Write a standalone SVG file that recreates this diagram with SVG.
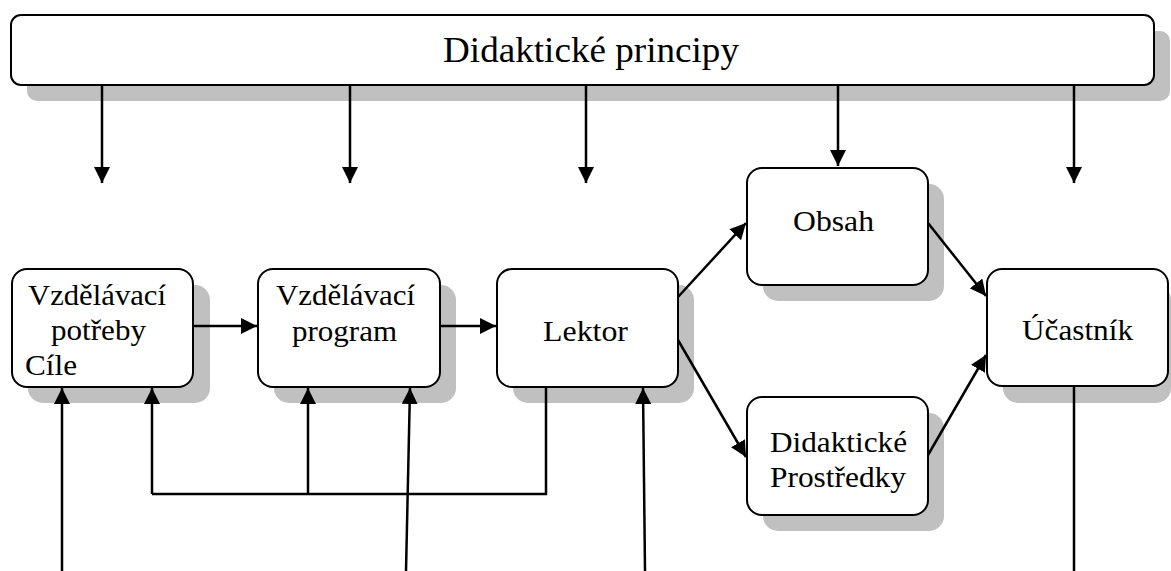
<svg xmlns="http://www.w3.org/2000/svg" width="1171" height="571" viewBox="0 0 1171 571">
<style>
.box{fill:#fff;stroke:#000;stroke-width:2}
.sh{fill:#c0c0c0;stroke:none}
.t{font-family:"Liberation Serif","Tinos","Times New Roman","Noto Serif","DejaVu Serif",serif;font-size:29px;fill:#000}
.big{font-size:36px}
.c{stroke:#000;stroke-width:2.5;fill:none}
.a{stroke:#000;stroke-width:2.5;fill:none;marker-end:url(#ah)}
</style>
<defs>
<marker id="ah" markerUnits="userSpaceOnUse" viewBox="0 0 16 16" refX="16" refY="8" markerWidth="16" markerHeight="16" orient="auto">
<path d="M0,0 L16,8 L0,16 z" fill="#000"/>
</marker>
</defs>
<rect width="1171" height="571" fill="#fff"/>
<g id="principy">
<rect class="sh" x="27" y="31" width="1143" height="70" rx="10"/>
<rect class="box" x="11" y="15" width="1143" height="70" rx="10"/>
<text class="t big" x="443" y="62" textLength="296" lengthAdjust="spacingAndGlyphs">Didaktické principy</text>
</g>
<g id="potreby">
<rect class="sh" x="28" y="285" width="182" height="118" rx="15"/>
<rect class="box" x="12" y="269" width="181" height="118" rx="15"/>
<text class="t" x="28" y="305" textLength="138" lengthAdjust="spacingAndGlyphs">Vzdělávací</text>
<text class="t" x="51" y="340" textLength="95" lengthAdjust="spacingAndGlyphs">potřeby</text>
<text class="t" x="25" y="375" textLength="52" lengthAdjust="spacingAndGlyphs">Cíle</text>
</g>
<g id="program">
<rect class="sh" x="274" y="285" width="182" height="118" rx="15"/>
<rect class="box" x="258" y="269" width="182" height="118" rx="15"/>
<text class="t" x="276" y="305" textLength="139" lengthAdjust="spacingAndGlyphs">Vzdělávací</text>
<text class="t" x="292" y="341" textLength="105" lengthAdjust="spacingAndGlyphs">program</text>
</g>
<g id="lektor">
<rect class="sh" x="513" y="285" width="181" height="118" rx="15"/>
<rect class="box" x="497" y="269" width="181" height="118" rx="15"/>
<text class="t" x="543" y="341" textLength="85" lengthAdjust="spacingAndGlyphs">Lektor</text>
</g>
<g id="obsah">
<rect class="sh" x="763" y="184" width="181" height="117" rx="15"/>
<rect class="box" x="747" y="168" width="181" height="117" rx="15"/>
<text class="t" x="793" y="231" textLength="81" lengthAdjust="spacingAndGlyphs">Obsah</text>
</g>
<g id="prostredky">
<rect class="sh" x="763" y="413" width="181" height="118" rx="15"/>
<rect class="box" x="747" y="397" width="181" height="118" rx="15"/>
<text class="t" x="770" y="452" textLength="137" lengthAdjust="spacingAndGlyphs">Didaktické</text>
<text class="t" x="770" y="487" textLength="136" lengthAdjust="spacingAndGlyphs">Prostředky</text>
</g>
<g id="ucastnik">
<rect class="sh" x="1003" y="285" width="168" height="118" rx="15"/>
<rect class="box" x="987" y="269" width="181" height="117" rx="15"/>
<text class="t" x="1022" y="340" textLength="111" lengthAdjust="spacingAndGlyphs">Účastník</text>
</g>
<g id="connectors">
<line class="a" x1="102" y1="85" x2="102" y2="183"/>
<line class="a" x1="350" y1="85" x2="350" y2="183"/>
<line class="a" x1="586" y1="85" x2="586" y2="183"/>
<line class="a" x1="838" y1="85" x2="838" y2="166"/>
<line class="a" x1="1074" y1="85" x2="1074" y2="183"/>
<line class="a" x1="193" y1="326" x2="257" y2="326"/>
<line class="a" x1="440" y1="326" x2="496" y2="326"/>
<line class="a" x1="678" y1="297" x2="746" y2="223"/>
<line class="a" x1="678" y1="340" x2="746" y2="457"/>
<line class="a" x1="928" y1="223" x2="986" y2="296"/>
<line class="a" x1="928" y1="455" x2="986" y2="355"/>
<line class="a" x1="62" y1="571" x2="62" y2="388"/>
<line class="a" x1="152" y1="494" x2="152" y2="388"/>
<line class="a" x1="308" y1="494" x2="308" y2="388"/>
<line class="a" x1="406" y1="571" x2="410" y2="388"/>
<line class="a" x1="645" y1="571" x2="643" y2="388"/>
<polyline class="c" points="546,387 546,494 152,494"/>
<line class="c" x1="1074" y1="386" x2="1074" y2="571"/>
</g>
</svg>
